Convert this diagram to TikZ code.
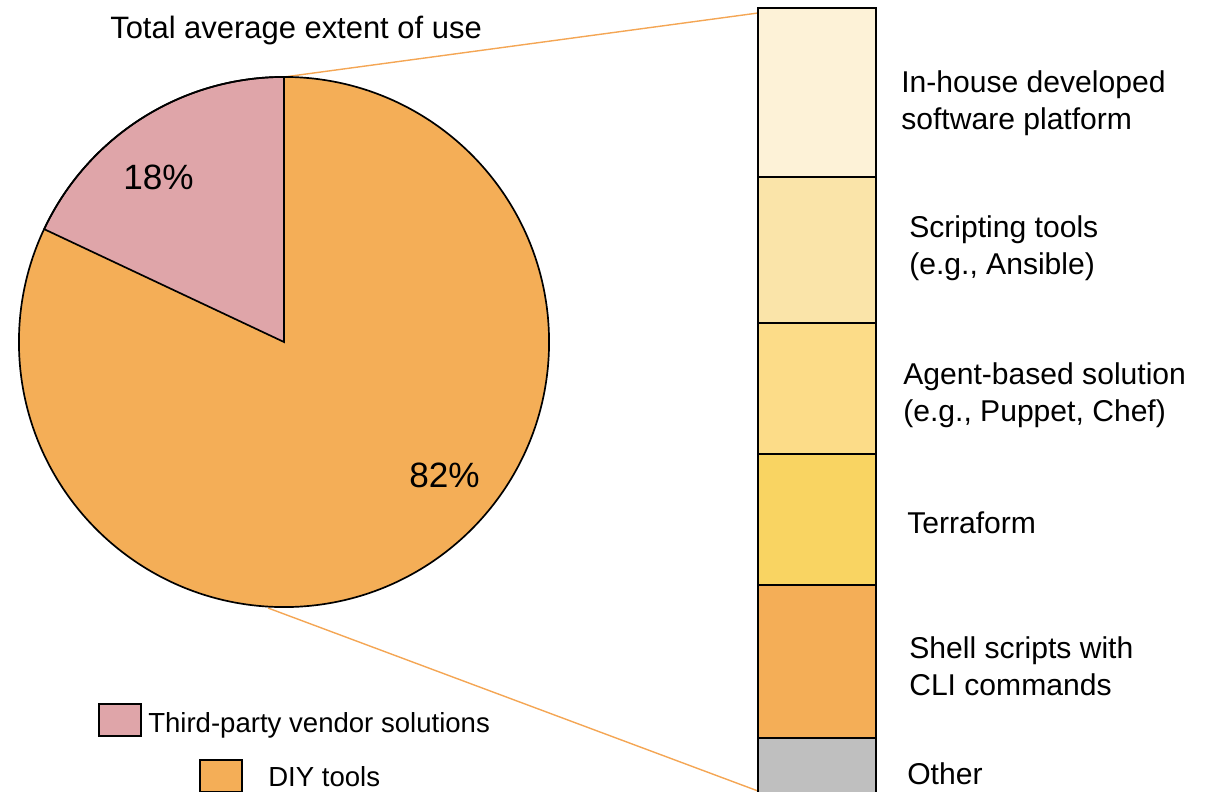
\documentclass[tikz,border=0pt]{standalone}
\usepackage{fontspec}
\setmainfont{Liberation Sans}
\usepackage{tikz}

\definecolor{thirdpink}{RGB}{223,165,169}
\definecolor{diyorange}{RGB}{244,174,87}
\definecolor{zoomorange}{RGB}{244,166,84}
\definecolor{barA}{RGB}{253,242,215}
\definecolor{barB}{RGB}{250,228,169}
\definecolor{barC}{RGB}{252,220,136}
\definecolor{barD}{RGB}{249,212,98}
\definecolor{barE}{RGB}{244,174,87}
\definecolor{barF}{RGB}{191,191,191}

\begin{document}
\begin{tikzpicture}[x=0.025cm,y=-0.025cm,
  outline/.style={draw=black,line width=1.2pt},
  zoomline/.style={draw=zoomorange,line width=1pt},
  pct/.style={inner sep=0,anchor=base west,font=\fontsize{25}{30}\selectfont},
  barlabel/.style={inner sep=0,anchor=base west,align=left,font=\fontsize{21.4}{25.8}\selectfont},
  legend/.style={inner sep=0,anchor=base west,font=\fontsize{19.6}{24}\selectfont}]

\clip (0,0) rectangle (1212,791);

% lines from the pie to the bar
\coordinate (pieTop) at (284,77);
\coordinate (pieBot) at (268,608);
\coordinate (barTop) at (758,13);
\coordinate (barBot) at (758,791);
\draw [zoomline] (pieTop) -- (barTop);
\draw [zoomline] (pieBot) -- (barBot);

% pie
\coordinate (C) at (284,342);
\fill [diyorange] (C) circle (6.625cm);
\draw [outline,fill=thirdpink] (C) -- +(90:6.625cm)
  arc [start angle=90,end angle=154.8,radius=6.625cm] -- cycle;
\draw [outline] (C) circle (6.625cm);

\node [inner sep=0,anchor=base west,font=\fontsize{22}{26}\selectfont] (title) at (110,38) {Total average extent of use};
\node [pct] (pctThird) at (123,189) {18\%};
\node [pct] (pctDIY) at (409,487) {82\%};

% stacked bar
\draw [outline,fill=barA] (758,8) rectangle (876,177);
\draw [outline,fill=barB] (758,177) rectangle (876,323);
\draw [outline,fill=barC] (758,323) rectangle (876,454);
\draw [outline,fill=barD] (758,454) rectangle (876,585);
\draw [outline,fill=barE] (758,585) rectangle (876,738);
\draw [outline,fill=barF] (758,738) rectangle (876,800);

% base of a two-line label is its last line
\node [barlabel] (labInhouse) at (901,129) {In-house developed\\software platform};
\node [barlabel] (labScript) at (909,274) {Scripting tools\\(e.g., Ansible)};
\node [barlabel] (labAgent) at (903,421) {Agent-based solution\\(e.g., Puppet, Chef)};
\node [barlabel] (labTerra) at (907,533) {Terraform};
\node [barlabel] (labShell) at (909,695) {Shell scripts with\\CLI commands};
\node [barlabel] (labOther) at (907,784) {Other};

% legend
\draw [outline,fill=thirdpink] (99,704) rectangle (141,736);
\draw [outline,fill=diyorange] (200,760) rectangle (242,792);
\node [legend] (legThird) at (148,732) {Third-party vendor solutions};
\node [legend] (legDIY) at (268,786) {DIY tools};

\end{tikzpicture}
\end{document}
